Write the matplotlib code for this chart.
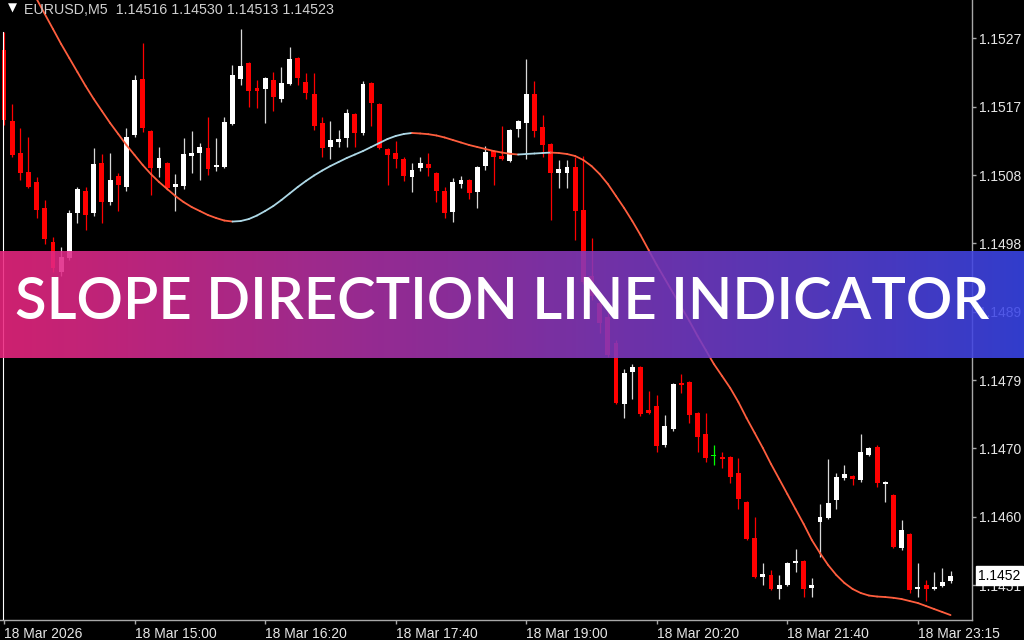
import numpy as np
import matplotlib
matplotlib.use("Agg")
import matplotlib.pyplot as plt
import matplotlib.transforms as mtransforms
from matplotlib.collections import LineCollection

# EURUSD M5 candles, 13:40 .. 23:15
opens = [
    1.15258, 1.15159, 1.15114, 1.15087, 1.15073, 1.15037, 1.14989, 1.14948, 1.14967, 1.15030,
    1.15061, 1.15030, 1.15100, 1.15045, 1.15082, 1.15066, 1.15139, 1.15217, 1.15145, 1.15093,
    1.15100, 1.15066, 1.15068, 1.15110, 1.15114, 1.15121, 1.15094, 1.15094, 1.15154, 1.15217,
    1.15240, 1.15205, 1.15203, 1.15216, 1.15189, 1.15210, 1.15247, 1.15213, 1.15196, 1.15156,
    1.15122, 1.15129, 1.15135, 1.15168, 1.15142, 1.15212, 1.15182, 1.15120, 1.15114, 1.15106,
    1.15080, 1.15093, 1.15099, 1.15086, 1.15061, 1.15031, 1.15071, 1.15076, 1.15059, 1.15096,
    1.15117, 1.15110, 1.15103, 1.15147, 1.15156, 1.15196, 1.15150, 1.15126, 1.15086, 1.15086,
    1.15094, 1.15034, 1.14942, 1.14904, 1.14885, 1.14848, 1.14763, 1.14808, 1.14815, 1.14755,
    1.14760, 1.14706, 1.14728, 1.14792, 1.14794, 1.14750, 1.14721, 1.14690, 1.14689, 1.14689,
    1.14667, 1.14626, 1.14576, 1.14521, 1.14524, 1.14504, 1.14510, 1.14541, 1.14544, 1.14506,
    1.14598, 1.14604, 1.14629, 1.14660, 1.14662, 1.14657, 1.14692, 1.14703, 1.14651, 1.14636,
    1.14562, 1.14581, 1.14504, 1.14510, 1.14504, 1.14509, 1.14516]
highs = [
    1.15283, 1.15182, 1.15149, 1.15136, 1.15080, 1.15048, 1.14996, 1.14982, 1.15034, 1.15066,
    1.15066, 1.15121, 1.15113, 1.15114, 1.15086, 1.15149, 1.15223, 1.15268, 1.15146, 1.15122,
    1.15101, 1.15085, 1.15135, 1.15145, 1.15128, 1.15164, 1.15135, 1.15164, 1.15237, 1.15287,
    1.15241, 1.15216, 1.15220, 1.15227, 1.15234, 1.15262, 1.15248, 1.15226, 1.15226, 1.15164,
    1.15159, 1.15146, 1.15175, 1.15170, 1.15215, 1.15213, 1.15184, 1.15121, 1.15131, 1.15108,
    1.15100, 1.15108, 1.15114, 1.15087, 1.15066, 1.15079, 1.15082, 1.15078, 1.15096, 1.15124,
    1.15118, 1.15152, 1.15147, 1.15160, 1.15245, 1.15215, 1.15167, 1.15128, 1.15104, 1.15104,
    1.15108, 1.15110, 1.14995, 1.14913, 1.14894, 1.14852, 1.14812, 1.14819, 1.14816, 1.14781,
    1.14776, 1.14748, 1.14792, 1.14805, 1.14795, 1.14752, 1.14750, 1.14706, 1.14696, 1.14690,
    1.14688, 1.14627, 1.14605, 1.14541, 1.14531, 1.14524, 1.14542, 1.14560, 1.14545, 1.14520,
    1.14623, 1.14686, 1.14667, 1.14678, 1.14664, 1.14721, 1.14703, 1.14706, 1.14655, 1.14637,
    1.14601, 1.14583, 1.14541, 1.14517, 1.14528, 1.14534, 1.14530]
lows = [
    1.15153, 1.15108, 1.15076, 1.15065, 1.15023, 1.14987, 1.14948, 1.14942, 1.14964, 1.15016,
    1.15006, 1.15026, 1.15016, 1.15041, 1.15033, 1.15061, 1.15136, 1.15143, 1.15055, 1.15080,
    1.15062, 1.15033, 1.15064, 1.15086, 1.15076, 1.15083, 1.15089, 1.15093, 1.15153, 1.15209,
    1.15178, 1.15177, 1.15156, 1.15173, 1.15185, 1.15209, 1.15209, 1.15189, 1.15146, 1.15108,
    1.15106, 1.15122, 1.15122, 1.15122, 1.15139, 1.15152, 1.15119, 1.15069, 1.15093, 1.15075,
    1.15059, 1.15089, 1.15082, 1.15045, 1.15023, 1.15017, 1.15065, 1.15050, 1.15037, 1.15090,
    1.15069, 1.15104, 1.15101, 1.15136, 1.15106, 1.15136, 1.15108, 1.15020, 1.15065, 1.15065,
    1.14992, 1.14931, 1.14908, 1.14862, 1.14829, 1.14763, 1.14743, 1.14770, 1.14746, 1.14749,
    1.14696, 1.14703, 1.14725, 1.14778, 1.14736, 1.14696, 1.14682, 1.14678, 1.14674, 1.14653,
    1.14616, 1.14573, 1.14520, 1.14510, 1.14503, 1.14490, 1.14509, 1.14528, 1.14493, 1.14493,
    1.14549, 1.14602, 1.14616, 1.14657, 1.14650, 1.14654, 1.14690, 1.14647, 1.14626, 1.14562,
    1.14559, 1.14499, 1.14493, 1.14488, 1.14503, 1.14507, 1.14513]
closes = [
    1.15160, 1.15111, 1.15086, 1.15066, 1.15034, 1.14994, 1.14953, 1.14968, 1.15030, 1.15064,
    1.15027, 1.15099, 1.15045, 1.15076, 1.15069, 1.15136, 1.15216, 1.15149, 1.15093, 1.15107,
    1.15065, 1.15071, 1.15113, 1.15114, 1.15122, 1.15092, 1.15097, 1.15157, 1.15223, 1.15236,
    1.15201, 1.15201, 1.15219, 1.15192, 1.15212, 1.15245, 1.15219, 1.15198, 1.15152, 1.15121,
    1.15132, 1.15133, 1.15170, 1.15142, 1.15210, 1.15184, 1.15121, 1.15111, 1.15106, 1.15082,
    1.15090, 1.15100, 1.15093, 1.15061, 1.15030, 1.15073, 1.15076, 1.15058, 1.15094, 1.15115,
    1.15108, 1.15106, 1.15146, 1.15159, 1.15196, 1.15145, 1.15125, 1.15086, 1.15092, 1.15094,
    1.15033, 1.14934, 1.14914, 1.14876, 1.14832, 1.14764, 1.14806, 1.14815, 1.14749, 1.14750,
    1.14704, 1.14732, 1.14791, 1.14790, 1.14748, 1.14717, 1.14688, 1.14690, 1.14686, 1.14661,
    1.14630, 1.14574, 1.14521, 1.14525, 1.14504, 1.14510, 1.14541, 1.14544, 1.14504, 1.14510,
    1.14605, 1.14625, 1.14661, 1.14665, 1.14658, 1.14696, 1.14702, 1.14653, 1.14654, 1.14563,
    1.14587, 1.14503, 1.14507, 1.14504, 1.14507, 1.14514, 1.14523]

# Slope Direction Line values, starting at bar 3
sdl_start = 3
sdl = [
    1.153488, 1.153292, 1.153082, 1.152873, 1.152663, 1.152467, 1.152271,
    1.152076, 1.151894, 1.151726, 1.151559, 1.151405, 1.151251, 1.151111, 1.150971, 1.150845, 1.150734,
    1.150636, 1.150538, 1.150454, 1.150384, 1.150328, 1.150272, 1.150230, 1.150195, 1.150181, 1.150188,
    1.150216, 1.150265, 1.150328, 1.150398, 1.150482, 1.150573, 1.150664, 1.150748, 1.150825, 1.150894,
    1.150957, 1.151013, 1.151069, 1.151118, 1.151167, 1.151223, 1.151279, 1.151335, 1.151377, 1.151405,
    1.151419, 1.151412, 1.151402, 1.151384, 1.151356, 1.151321, 1.151286, 1.151251, 1.151223, 1.151195,
    1.151167, 1.151146, 1.151128, 1.151118, 1.151125, 1.151132, 1.151139, 1.151145, 1.151139, 1.151125,
    1.151097, 1.151041, 1.150957, 1.150845, 1.150706, 1.150538, 1.150370, 1.150188, 1.149993, 1.149783,
    1.149573, 1.149378, 1.149182, 1.148986, 1.148790, 1.148581, 1.148385, 1.148189, 1.148022, 1.147854,
    1.147658, 1.147434, 1.147225, 1.147015, 1.146791, 1.146582, 1.146372, 1.146162, 1.145953, 1.145729,
    1.145547, 1.145379, 1.145240, 1.145128, 1.145044, 1.144988, 1.144953, 1.144939, 1.144932, 1.144921,
    1.144904, 1.144876, 1.144848, 1.144806, 1.144764, 1.144722, 1.144680]

time_ticks = [0, 16, 32, 48, 64, 80, 96, 112]
time_labels = ["18 Mar 2026", "18 Mar 15:00", "18 Mar 16:20", "18 Mar 17:40",
               "18 Mar 19:00", "18 Mar 20:20", "18 Mar 21:40", "18 Mar 23:15"]
price_ticks = [1.14510, 1.146055, 1.14701, 1.147965, 1.14892,
               1.149875, 1.15083, 1.151785, 1.15274]
price_labels = ["1.1451", "1.1460", "1.1470", "1.1479", "1.1489",
                "1.1498", "1.1508", "1.1517", "1.1527"]
title_text = "EURUSD,M5  1.14516 1.14530 1.14513 1.14523"
last_price = 1.14523
banner_text = "SLOPE DIRECTION LINE INDICATOR"

W, H = 1024, 640
fig = plt.figure(figsize=(W / 100, H / 100), dpi=100, facecolor="black")
ax = fig.add_axes([0, 20 / H, 972 / W, 620 / H], facecolor="black")

o = np.array(opens); h = np.array(highs); l = np.array(lows); c = np.array(closes)
x = np.arange(len(o))
bull = c > o
bear = c < o
body_col = np.where(bull, "#FFFFFF", np.where(bear, "#FF0000", "#00FF00"))
wick_col = np.where(bull, "#D8D8D8", np.where(bear, "#FF0000", "#00FF00"))

ax.vlines(x, l, h, colors=wick_col, linewidth=0.9, zorder=2)
body_h = np.maximum(np.abs(c - o), 1.6e-5)
ax.bar(x, body_h, bottom=np.minimum(o, c), width=0.6, color=body_col,
       linewidth=0, zorder=3)

# slope direction line: red while falling, light blue while rising
sx = np.arange(sdl_start, sdl_start + len(sdl))
sy = np.array(sdl)
pts = np.column_stack([sx, sy])
segs = np.stack([pts[:-1], pts[1:]], axis=1)
seg_col = np.where(np.diff(sy) > 0, "#ADD8E6", "#FF5E3E")
ax.add_collection(LineCollection(segs, colors=seg_col, linewidths=1.3,
                                 capstyle="round", zorder=4))

ax.axvline(-0.12, ymax=(620 - 32) / 620, color="white", linewidth=0.8, zorder=5)

ax.set_xlim(-0.49, 118.63)
ax.set_ylim(1.144611, 1.153278)

for side in ["left", "top"]:
    ax.spines[side].set_visible(False)
for side in ["right", "bottom"]:
    ax.spines[side].set_color("#A8A8A8")
    ax.spines[side].set_linewidth(1.0)

ax.yaxis.tick_right()
ax.set_yticks(price_ticks)
ax.set_yticklabels(price_labels)
ax.set_xticks(time_ticks)
ax.set_xticklabels(time_labels, ha="left")
ax.tick_params(axis="y", direction="out", length=3, width=1, color="#A8A8A8",
               labelcolor="#E6E6E6", labelsize=10, pad=2)
ax.tick_params(axis="x", direction="out", length=3, width=1, color="#A8A8A8",
               labelcolor="#E6E6E6", labelsize=10, pad=2)
for lab in ax.get_xticklabels() + ax.get_yticklabels():
    lab.set_fontfamily("Liberation Sans")

# current price marker
trans = mtransforms.blended_transform_factory(ax.transAxes, ax.transData)
ax.text(978 / 972, last_price, "1.1452", transform=trans, ha="left", va="center",
        color="black", fontsize=10, family="Liberation Sans", clip_on=False, zorder=6,
        bbox=dict(facecolor="white", edgecolor="white", pad=1.6))

# top-left symbol info
fig.text(12.5 / W, 1 - 8 / H, "\u25BC", color="white", fontsize=8.5,
         family="DejaVu Sans", ha="center", va="center")
fig.text(24 / W, 1 - 14 / H, title_text, color="#D0D0D0", fontsize=10.3,
         family="Liberation Sans", ha="left", va="baseline")

# gradient banner
bax = fig.add_axes([0, (H - 358) / H, 1, 107 / H], zorder=10)
g = np.linspace(0, 1, 512)[:, None]
left_c = np.array([236, 38, 128]) / 255
right_c = np.array([57, 70, 233]) / 255
grad = (left_c * (1 - g) + right_c * g)[None, :, :]
bax.imshow(grad, aspect="auto", extent=[0, 1, 0, 1], alpha=0.88)
bax.set_xlim(0, 1)
bax.set_ylim(0, 1)
bax.axis("off")
bt = bax.text(502 / W, (358 - 319) / 107, banner_text, color="white",
              fontsize=40, family="Lato", fontweight="semibold",
              ha="center", va="baseline")
fig.canvas.draw()
wpx = bt.get_window_extent(renderer=fig.canvas.get_renderer()).width
bt.set_fontsize(40 * 972 / wpx)

fig.savefig("out.png", dpi=100, facecolor="black")
